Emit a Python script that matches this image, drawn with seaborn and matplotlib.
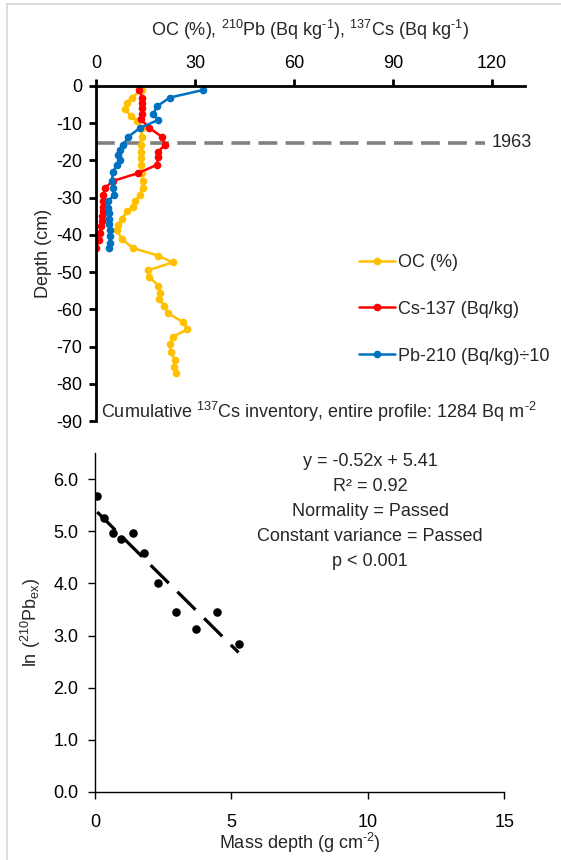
import matplotlib
matplotlib.use("Agg")
import matplotlib.pyplot as plt
from matplotlib import font_manager
from matplotlib.lines import Line2D
import seaborn as sns
import pandas as pd

# ---------------- data ----------------
oc_depth = [-1.1, -3.1, -4.6, -6.3, -8.0, -9.5, -11.3, -13.6, -15.8, -17.6, -19.3, -21.2,
            -23.4, -25.6, -27.4, -29.2, -31.0, -32.4, -33.7, -35.7, -37.3, -38.6, -41.1,
            -43.5, -45.6, -47.4, -49.5, -51.4, -53.6, -55.6, -57.2, -59.0, -61.1, -63.5,
            -65.4, -67.4, -69.4, -71.5, -73.5, -75.4, -77.2]
oc_val = [13.8, 10.8, 9.3, 8.8, 10.5, 12.5, 13.8, 13.8, 13.5, 13.5, 13.5, 13.5,
          13.8, 14.1, 14.1, 13.3, 11.8, 11.1, 9.5, 7.8, 6.8, 6.3, 7.8,
          11.1, 18.9, 23.2, 15.8, 16.2, 18.9, 19.4, 19.2, 20.6, 21.9, 26.5,
          27.7, 23.2, 22.4, 22.6, 23.9, 23.6, 24.2]

cs_depth = [-1.1, -3.1, -4.6, -6.0, -7.6, -8.9, -11.3, -13.6, -15.8, -17.6, -19.0, -21.2,
            -23.4, -25.5, -27.4, -29.2, -31.0, -32.4, -33.7, -35.0, -36.4, -37.7, -39.5,
            -41.3, -43.5]
cs_val = [13.1, 14.0, 13.8, 13.8, 13.8, 13.5, 16.2, 19.9, 20.9, 18.9, 18.9, 18.4,
          12.8, 5.2, 2.7, 2.2, 2.0, 2.0, 2.0, 1.8, 1.8, 1.4, 1.2, 1.0, 0.0]

pb_depth = [-1.1, -3.1, -5.5, -7.6, -9.1, -11.3, -13.6, -15.8, -17.2, -18.5, -19.8, -21.2,
            -23.0, -25.5, -27.4, -29.2, -31.0, -32.8, -34.2, -35.6, -37.0, -38.6, -40.4,
            -42.2, -43.5]
pb_val = [32.3, 22.4, 18.4, 17.4, 18.9, 13.3, 9.8, 8.3, 7.3, 6.8, 7.3, 6.3,
          5.2, 4.8, 5.2, 5.5, 3.7, 3.7, 3.8, 3.8, 3.8, 4.2, 4.2, 4.2, 3.8]

year_1963_depth = -15.3

series_labels = ["OC (%)", "Cs-137 (Bq/kg)", "Pb-210 (Bq/kg)\u00f710"]
series_colors = ["#FFC000", "#FF0000", "#0070C0"]

top_xticks = [0, 30, 60, 90, 120]
top_yticks = [0, -10, -20, -30, -40, -50, -60, -70, -80, -90]

mass_depth = [0.08, 0.33, 0.65, 0.97, 1.38, 1.79, 2.31, 2.96, 3.69, 4.46, 5.26]
ln_pb = [5.67, 5.26, 4.97, 4.85, 4.97, 4.58, 4.01, 3.46, 3.13, 3.46, 2.83]
fit_slope = -0.52
fit_intercept = 5.41

bottom_xticks = [0, 5, 10, 15]
bottom_yticks = [0, 1, 2, 3, 4, 5, 6]

stats_lines = ["y = -0.52x + 5.41", "R\u00b2 = 0.92", "Normality = Passed",
               "Constant variance = Passed", "p < 0.001"]

# ---------------- style ----------------
sns.set_theme(style="white")
names = {f.name for f in font_manager.fontManager.ttflist}
narrow = "Liberation Sans Narrow" if "Liberation Sans Narrow" in names else "Liberation Sans"
plt.rcParams["font.family"] = [narrow, "DejaVu Sans"]
plt.rcParams["mathtext.fontset"] = "custom"
plt.rcParams["mathtext.rm"] = narrow
plt.rcParams["mathtext.it"] = narrow
plt.rcParams["mathtext.default"] = "regular"
plt.rcParams["axes.unicode_minus"] = False

FS = 13
NEG = r"\text{-}"

W, H = 561, 860
fig = plt.figure(figsize=(W / 100, H / 100), dpi=100)

def frac_box(x0, y0, x1, y1):
    return [x0 / W, 1 - y1 / H, (x1 - x0) / W, (y1 - y0) / H]

# thin frame lines (top and left) of the original screenshot
fig.add_artist(Line2D([7 / W, 1], [1 - 4 / H, 1 - 4 / H], color="#d6d6d6", lw=1.2))
fig.add_artist(Line2D([7 / W, 7 / W], [0, 1 - 4 / H], color="#d6d6d6", lw=1.2))

# ---------------- top panel ----------------
ax1 = fig.add_axes(frac_box(96, 86, 525, 421))
data_series = [(oc_val, oc_depth), (cs_val, cs_depth), (pb_val, pb_depth)]
for (xv, yv), lab, col in zip(data_series, series_labels, series_colors):
    df = pd.DataFrame({"v": xv, "d": yv})
    sns.lineplot(data=df, x="v", y="d", sort=False, estimator=None, ax=ax1,
                 color=col, lw=1.8, marker="o", markersize=5.5, markeredgewidth=0,
                 label=lab)

ax1.plot([0, 118], [year_1963_depth, year_1963_depth], color="#808080", lw=2.6,
         dashes=(5.2, 2.3), zorder=0.5)
ax1.text(120, year_1963_depth, "1963", fontsize=FS, va="center", ha="left")

ax1.set_xlim(0, 130)
ax1.set_ylim(-90, 0)
ax1.xaxis.tick_top()
ax1.xaxis.set_label_position("top")
ax1.set_xticks(top_xticks)
ax1.set_yticks(top_yticks)
ax1.set_yticklabels([str(t) for t in top_yticks])
for s in ["right", "bottom"]:
    ax1.spines[s].set_visible(False)
for s in ["top", "left"]:
    ax1.spines[s].set_linewidth(2.0)
    ax1.spines[s].set_color("black")
ax1.tick_params(axis="both", which="major", direction="out", length=5, width=2.0,
                labelsize=FS, colors="black", pad=5, top=True, left=True)
ax1.set_xlabel(r"OC (%), $^{210}$Pb (Bq kg$^{" + NEG + r"1}$), $^{137}$Cs (Bq kg$^{" + NEG + r"1}$)",
               fontsize=FS, labelpad=14)
ax1.set_ylabel("Depth (cm)", fontsize=FS, labelpad=3)
ax1.text(1.4, -87.5, r"Cumulative $^{137}$Cs inventory, entire profile: 1284 Bq m$^{" + NEG + r"2}$",
         fontsize=FS, va="center", ha="left")

leg = ax1.legend(loc="upper left", bbox_to_anchor=((359 - 96) / 429, 1 - (254 - 86) / 335),
                 frameon=False, fontsize=FS, borderpad=0, borderaxespad=0,
                 handlelength=2.0, handletextpad=0.15, labelspacing=1.65)

# ---------------- bottom panel ----------------
ax2 = fig.add_axes(frac_box(95, 453, 504.3, 792))
df2 = pd.DataFrame({"x": mass_depth, "y": ln_pb})
sns.scatterplot(data=df2, x="x", y="y", ax=ax2, color="black", s=38, linewidth=0, zorder=3)
fit_x = [mass_depth[0], mass_depth[-1]]
fit_y = [fit_slope * v + fit_intercept for v in fit_x]
sns.lineplot(x=fit_x, y=fit_y, ax=ax2, color="black", lw=2.3, estimator=None,
             dashes=False, zorder=2).lines[-1].set_dashes((8, 3.8))

ax2.set_xlim(0, 15)
ax2.set_ylim(0, 6.5)
ax2.set_xticks(bottom_xticks)
ax2.set_yticks(bottom_yticks)
ax2.set_yticklabels([f"{t:.1f}" for t in bottom_yticks])
for s in ["right", "top"]:
    ax2.spines[s].set_visible(False)
for s in ["left", "bottom"]:
    ax2.spines[s].set_linewidth(1.0)
    ax2.spines[s].set_color("black")
ax2.tick_params(axis="y", which="major", direction="out", length=5, width=1.0,
                labelsize=FS, colors="black", pad=7, left=True)
ax2.tick_params(axis="x", which="major", direction="out", length=5, width=1.0,
                labelsize=FS, colors="black", pad=11, bottom=True)
ax2.set_xlabel(r"Mass depth (g cm$^{" + NEG + r"2}$)", fontsize=FS, labelpad=0)
ax2.set_ylabel(r"ln ($^{210}$Pb$_{ex}$)", fontsize=FS, labelpad=7)

for i, line in enumerate(stats_lines):
    fig.text(370 / W, 1 - (461 + 25.2 * i) / H, line, fontsize=FS, ha="center", va="center")

fig.savefig("out.png", dpi=100)
